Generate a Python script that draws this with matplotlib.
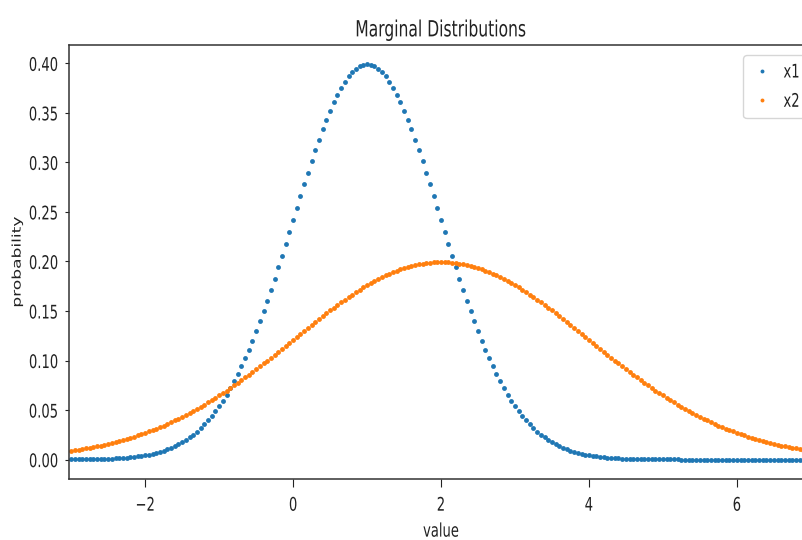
import numpy as np
import matplotlib
matplotlib.use("Agg")
import matplotlib.pyplot as plt
from matplotlib.patheffects import AbstractPathEffect
from matplotlib.transforms import Affine2D

# Grid the densities were evaluated on (step 0.05)
x_start, x_stop = -3.0, 7.0

# Density of x1, N(1, 1)
x1_density = [
    0.0001, 0.0002, 0.0002, 0.0002, 0.0003, 0.0004, 0.0004, 0.0005, 0.0006, 0.0007,
    0.0009, 0.0010, 0.0012, 0.0015, 0.0017, 0.0020, 0.0024, 0.0028, 0.0033, 0.0038,
    0.0044, 0.0051, 0.0060, 0.0069, 0.0079, 0.0091, 0.0104, 0.0119, 0.0136, 0.0154,
    0.0175, 0.0198, 0.0224, 0.0252, 0.0283, 0.0317, 0.0355, 0.0396, 0.0440, 0.0488,
    0.0540, 0.0596, 0.0656, 0.0721, 0.0790, 0.0863, 0.0940, 0.1023, 0.1109, 0.1200,
    0.1295, 0.1394, 0.1497, 0.1604, 0.1714, 0.1826, 0.1942, 0.2059, 0.2179, 0.2299,
    0.2420, 0.2541, 0.2661, 0.2780, 0.2897, 0.3011, 0.3123, 0.3230, 0.3332, 0.3429,
    0.3521, 0.3605, 0.3683, 0.3752, 0.3814, 0.3867, 0.3910, 0.3945, 0.3970, 0.3984,
    0.3989,
    0.3984, 0.3970, 0.3945, 0.3910, 0.3867, 0.3814, 0.3752, 0.3683, 0.3605, 0.3521,
    0.3429, 0.3332, 0.3230, 0.3123, 0.3011, 0.2897, 0.2780, 0.2661, 0.2541, 0.2420,
    0.2299, 0.2179, 0.2059, 0.1942, 0.1826, 0.1714, 0.1604, 0.1497, 0.1394, 0.1295,
    0.1200, 0.1109, 0.1023, 0.0940, 0.0863, 0.0790, 0.0721, 0.0656, 0.0596, 0.0540,
    0.0488, 0.0440, 0.0396, 0.0355, 0.0317, 0.0283, 0.0252, 0.0224, 0.0198, 0.0175,
    0.0154, 0.0136, 0.0119, 0.0104, 0.0091, 0.0079, 0.0069, 0.0060, 0.0051, 0.0044,
    0.0038, 0.0033, 0.0028, 0.0024, 0.0020, 0.0017, 0.0015, 0.0012, 0.0010, 0.0009,
    0.0007, 0.0006, 0.0005, 0.0004, 0.0004, 0.0003, 0.0002, 0.0002, 0.0002, 0.0001,
    0.0001, 0.0001, 0.0001, 0.0001, 0.0, 0.0, 0.0, 0.0, 0.0, 0.0,
    0.0, 0.0, 0.0, 0.0, 0.0, 0.0, 0.0, 0.0, 0.0, 0.0,
    0.0, 0.0, 0.0, 0.0, 0.0, 0.0, 0.0, 0.0, 0.0, 0.0,
    0.0, 0.0, 0.0, 0.0, 0.0, 0.0, 0.0, 0.0, 0.0, 0.0,
]

# Density of x2, N(2, 2^2)
x2_density = [
    0.0088, 0.0093, 0.0099, 0.0105, 0.0112, 0.0119, 0.0126, 0.0134, 0.0142, 0.0150,
    0.0159, 0.0168, 0.0177, 0.0187, 0.0198, 0.0209, 0.0220, 0.0232, 0.0244, 0.0257,
    0.0270, 0.0284, 0.0298, 0.0313, 0.0328, 0.0344, 0.0360, 0.0377, 0.0395, 0.0413,
    0.0431, 0.0451, 0.0470, 0.0491, 0.0511, 0.0533, 0.0555, 0.0577, 0.0600, 0.0624,
    0.0648, 0.0672, 0.0697, 0.0723, 0.0749, 0.0775, 0.0802, 0.0829, 0.0857, 0.0885,
    0.0913, 0.0942, 0.0971, 0.1000, 0.1030, 0.1059, 0.1089, 0.1119, 0.1149, 0.1180,
    0.1210, 0.1240, 0.1270, 0.1300, 0.1330, 0.1360, 0.1390, 0.1419, 0.1448, 0.1477,
    0.1506, 0.1534, 0.1561, 0.1588, 0.1615, 0.1641, 0.1666, 0.1691, 0.1715, 0.1738,
    0.1760, 0.1782, 0.1803, 0.1822, 0.1841, 0.1859, 0.1876, 0.1892, 0.1907, 0.1921,
    0.1933, 0.1945, 0.1955, 0.1964, 0.1972, 0.1979, 0.1985, 0.1989, 0.1992, 0.1994,
    0.1995,
    0.1994, 0.1992, 0.1989, 0.1985, 0.1979, 0.1972, 0.1964, 0.1955, 0.1945, 0.1933,
    0.1921, 0.1907, 0.1892, 0.1876, 0.1859, 0.1841, 0.1822, 0.1803, 0.1782, 0.1760,
    0.1738, 0.1715, 0.1691, 0.1666, 0.1641, 0.1615, 0.1588, 0.1561, 0.1534, 0.1506,
    0.1477, 0.1448, 0.1419, 0.1390, 0.1360, 0.1330, 0.1300, 0.1270, 0.1240, 0.1210,
    0.1180, 0.1149, 0.1119, 0.1089, 0.1059, 0.1030, 0.1000, 0.0971, 0.0942, 0.0913,
    0.0885, 0.0857, 0.0829, 0.0802, 0.0775, 0.0749, 0.0723, 0.0697, 0.0672, 0.0648,
    0.0624, 0.0600, 0.0577, 0.0555, 0.0533, 0.0511, 0.0491, 0.0470, 0.0451, 0.0431,
    0.0413, 0.0395, 0.0377, 0.0360, 0.0344, 0.0328, 0.0313, 0.0298, 0.0284, 0.0270,
    0.0257, 0.0244, 0.0232, 0.0220, 0.0209, 0.0198, 0.0187, 0.0177, 0.0168, 0.0159,
    0.0150, 0.0142, 0.0134, 0.0126, 0.0119, 0.0112, 0.0105, 0.0099, 0.0093, 0.0088,
]

series_labels = ["x1", "x2"]

x_values = np.linspace(x_start, x_stop, len(x1_density))


class Squeeze(AbstractPathEffect):
    """Narrow a text horizontally (in display space) about its left/centre/right."""

    def __init__(self, factor=0.7, anchor="center"):
        super().__init__()
        self._factor = factor
        self._anchor = anchor

    def draw_path(self, renderer, gc, tpath, affine, rgbFace=None):
        ext = tpath.get_extents(affine)
        if self._anchor == "right":
            x0 = ext.x1
        elif self._anchor == "left":
            x0 = ext.x0
        else:
            x0 = 0.5 * (ext.x0 + ext.x1)
        narrow = Affine2D().translate(-x0, 0).scale(self._factor, 1).translate(x0, 0)
        renderer.draw_path(gc, tpath, affine + narrow, rgbFace)


SQ = 0.7

fig = plt.figure(figsize=(8.03, 5.40), dpi=100)
ax = fig.add_axes([69 / 803, 60.7 / 540, 744 / 803, 434.6 / 540])

ax.plot(x_values, x1_density, "o", ms=3.5, mew=0, color="#1f77b4", label=series_labels[0])
ax.plot(x_values, x2_density, "o", ms=3.5, mew=0, color="#ff7f0e", label=series_labels[1])

ax.set_xlim(-3.03, 7.03)
ax.set_ylim(-0.0199, 0.4188)
ax.set_yticks(np.arange(0, 0.41, 0.05))
ax.set_xticks([-2, 0, 2, 4, 6])
ax.yaxis.set_major_formatter(matplotlib.ticker.FormatStrFormatter("%.2f"))

ax.tick_params(axis="x", length=5.8, pad=6, labelsize=13.5, colors="#222222")
ax.tick_params(axis="y", length=2.9, pad=4.8, labelsize=13.5, colors="#222222")
for s in ax.spines.values():
    s.set_linewidth(1.1)
    s.set_color("#333333")

for lab in ax.get_yticklabels():
    lab.set_path_effects([Squeeze(SQ, "right")])
for lab in ax.get_xticklabels():
    lab.set_path_effects([Squeeze(SQ, "center")])

title = ax.set_title("Marginal Distributions", fontsize=16, pad=6, color="#222222")
title.set_path_effects([Squeeze(SQ, "center")])

xlab = ax.set_xlabel("value", fontsize=13.5, labelpad=5, color="#222222")
xlab.set_path_effects([Squeeze(SQ, "center")])

ylab = ax.set_ylabel("probability", fontsize=12.3, color="#222222")
ax.yaxis.set_label_coords((26 - 69) / 744, 0.5)
ylab.set_path_effects([Squeeze(SQ, "center")])

leg = ax.legend(loc="upper left", bbox_to_anchor=((743 - 69) / 744, (479.3 - 55) / 434.6),
                borderaxespad=0, fontsize=13.5, handlelength=1.2, handletextpad=0.55,
                borderpad=0.4, labelspacing=0.55, markerscale=0.8)
for t in leg.get_texts():
    t.set_color("#222222")
    t.set_path_effects([Squeeze(SQ, "left")])

fig.savefig("out.png", dpi=100)
